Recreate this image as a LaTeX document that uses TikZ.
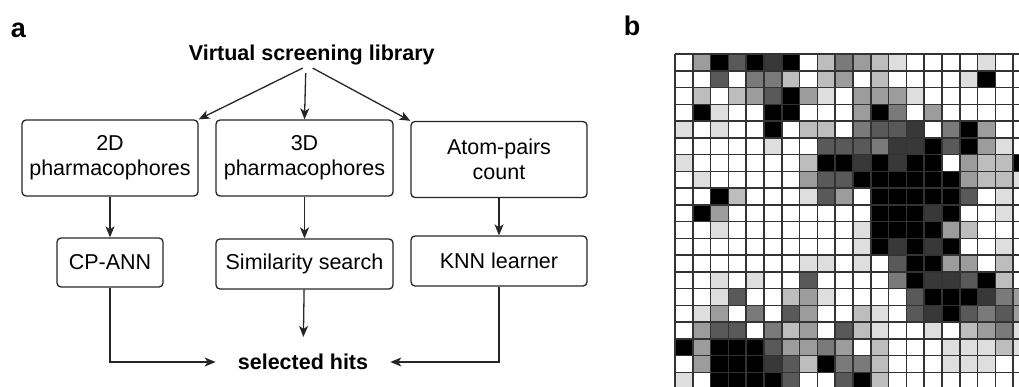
\documentclass[tikz,border=0pt]{standalone}
\usepackage{fontspec}
\setmainfont{Liberation Sans}
\usetikzlibrary{positioning, calc, arrows.meta}

\begin{document}
\begin{tikzpicture}[x=1pt, y=-1pt,
    box/.style={draw=black!85, line width=1.3pt, rounded corners=4pt, align=center,
      font=\fontsize{21.5}{25}\selectfont},
    flow/.style={-{Stealth[length=11pt,width=9pt,inset=3pt]}, line width=1.3pt, draw=black!85},
    head/.style={font=\fontsize{21.5}{25}\selectfont\bfseries},
    panel/.style={font=\fontsize{27}{30}\selectfont\bfseries, anchor=base},
    gridline/.style={draw=black!80, line width=1.5pt}]
    \useasboundingbox (0,0) rectangle (1019,386);

    % panel a: screening workflow
    \node[panel] (pa) at (18.5,37) {a};
    \node[head, anchor=base] (lib) at (311.7,60) {Virtual screening library};

    \node[box, minimum width=176pt, minimum height=76pt] (p2d) at (110,158) {2D\\pharmacophores};
    \node[box, minimum width=177pt, minimum height=76pt] (p3d) at (304.5,158) {3D\\pharmacophores};
    \node[box, minimum width=176pt, minimum height=76pt] (apc) at (499,159.5) {Atom-pairs\\count};

    \node[box, minimum width=106pt, minimum height=49pt] (cpann) at (110,262.5) {CP-ANN};
    \node[box, minimum width=177pt, minimum height=50pt] (simil) at (304.5,264) {Similarity search};
    \node[box, minimum width=176pt, minimum height=50pt] (knn) at (499,261) {KNN learner};

    \node[head, inner xsep=22pt, inner ysep=17pt] (hits) at (303,362) {selected hits};

    \draw[flow] ([xshift=-9pt]lib.south) -- (p2d.north east);
    \draw[flow] ([xshift=-6pt,yshift=-5pt]lib.south) -- (p2d.north east -| p3d.north);
    \draw[flow] ([xshift=1pt]lib.south) -- (apc.north west);

    \draw[flow] (p2d) -- (cpann);
    \draw[flow] (p3d) -- (simil);
    \draw[flow] (apc) -- (knn);

    \draw[flow] (simil) -- (hits);
    \draw[flow] (cpann.south) |- (hits.west);
    \draw[flow] (knn.south) |- (hits.east);

    % panel b: grey-level map, cut off at the page edge
    \node[panel] (pb) at (632,35) {b};
    \begin{scope}
      \clip (600,0) rectangle (1019,386);
      \foreach \r/\row in {
          0/{0,3,7,5,7,6,7,0,2,4,3,2,1,0,0,0,0,1,0,0},
          1/{0,0,5,0,4,4,2,0,2,3,0,2,0,0,0,0,1,7,0,0},
          2/{0,2,0,2,3,5,7,3,1,0,3,3,3,1,0,0,0,0,0,0},
          3/{0,7,1,0,0,7,7,0,0,0,3,7,4,0,3,0,0,0,0,0},
          4/{1,0,1,0,0,7,0,2,2,0,4,5,5,6,0,4,7,3,0,0},
          5/{0,0,0,0,0,1,0,0,5,5,5,4,6,6,7,5,7,3,1,0},
          6/{1,0,0,0,0,0,0,2,7,7,6,7,6,7,7,0,3,2,2,7},
          7/{0,1,0,0,0,0,0,3,5,5,7,7,7,7,7,7,3,2,2,1},
          8/{0,0,7,2,0,0,0,1,5,3,0,7,7,7,7,7,5,0,1,0},
          9/{0,7,3,0,0,0,0,0,0,0,0,7,7,7,6,7,0,0,1,0},
          10/{0,0,1,0,0,0,0,0,0,0,1,7,7,7,7,3,2,0,0,0},
          11/{0,0,0,0,0,0,0,0,0,0,1,7,6,7,6,7,0,0,1,0},
          12/{0,0,0,0,0,0,0,1,1,0,1,0,5,7,7,3,3,0,2,0},
          13/{0,0,1,0,1,0,0,5,0,0,0,0,4,7,6,6,5,7,2,0},
          14/{0,0,1,5,0,0,2,3,1,0,0,0,0,5,7,7,7,6,4,3},
          15/{0,1,3,0,4,0,5,3,0,0,2,1,0,5,6,7,5,4,5,3},
          16/{0,3,5,5,0,4,2,3,0,5,2,1,0,0,1,0,2,3,4,1},
          17/{7,3,7,7,7,5,3,3,4,3,0,2,0,0,0,1,1,1,2,1},
          18/{0,3,7,7,7,6,5,2,7,4,4,2,0,0,0,1,1,1,0,0},
          19/{1,0,7,7,7,7,5,0,0,5,7,2,0,0,0,0,0,0,0,0}}{
        \foreach \v [count=\c from 0] in \row {
          \pgfmathtruncatemacro\pct{\v==7 ? 100 : 13*\v}
          \fill[black!\pct] (675+17.8*\c,54+16.75*\r) rectangle ++(17.8,16.75);
        }
      }
      \foreach \i in {0,...,20} {
        \draw[gridline] (675+17.8*\i,54) -- (675+17.8*\i,389);
        \draw[gridline] (675,54+16.75*\i) -- (1031,54+16.75*\i);
      }
    \end{scope}
\end{tikzpicture}
\end{document}
